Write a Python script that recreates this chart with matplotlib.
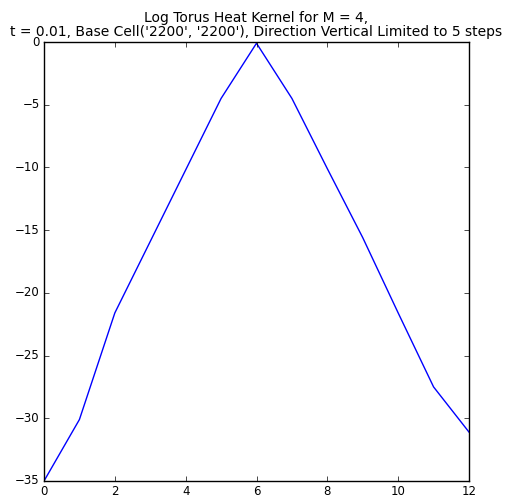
import matplotlib
matplotlib.use("Agg")
import matplotlib.pyplot as plt

steps = [0, 1, 2, 3, 4, 5, 6, 7, 8, 9, 10, 11, 12]
log_kernel = [-35.0, -30.1, -21.6, -15.9, -10.2, -4.5, -0.1, -4.5, -10.1, -15.6, -21.6, -27.5, -31.1]
title = "Log Torus Heat Kernel for M = 4,\nt = 0.01, Base Cell('2200', '2200'), Direction Vertical Limited to 5 steps"

plt.style.use('classic')
plt.rcParams['font.family'] = ['DejaVu Sans']
fig = plt.figure(figsize=(5.09, 5.00), dpi=100, facecolor='white')
ax = fig.add_axes([44/509, 19/500, 425/509, 439/500])
ax.plot(steps, log_kernel, color='#0000ff', linewidth=1)
ax.set_xlim(0, 12)
ax.set_ylim(-35, 0)
ax.set_xticks([0, 2, 4, 6, 8, 10, 12])
ax.set_yticks([-35, -30, -25, -20, -15, -10, -5, 0])
ax.tick_params(labelsize=8.5, length=3.5, pad=3)
ax.set_title(title, fontsize=10, linespacing=1.0, pad=4)
fig.savefig("out.png", dpi=100, facecolor='white')
